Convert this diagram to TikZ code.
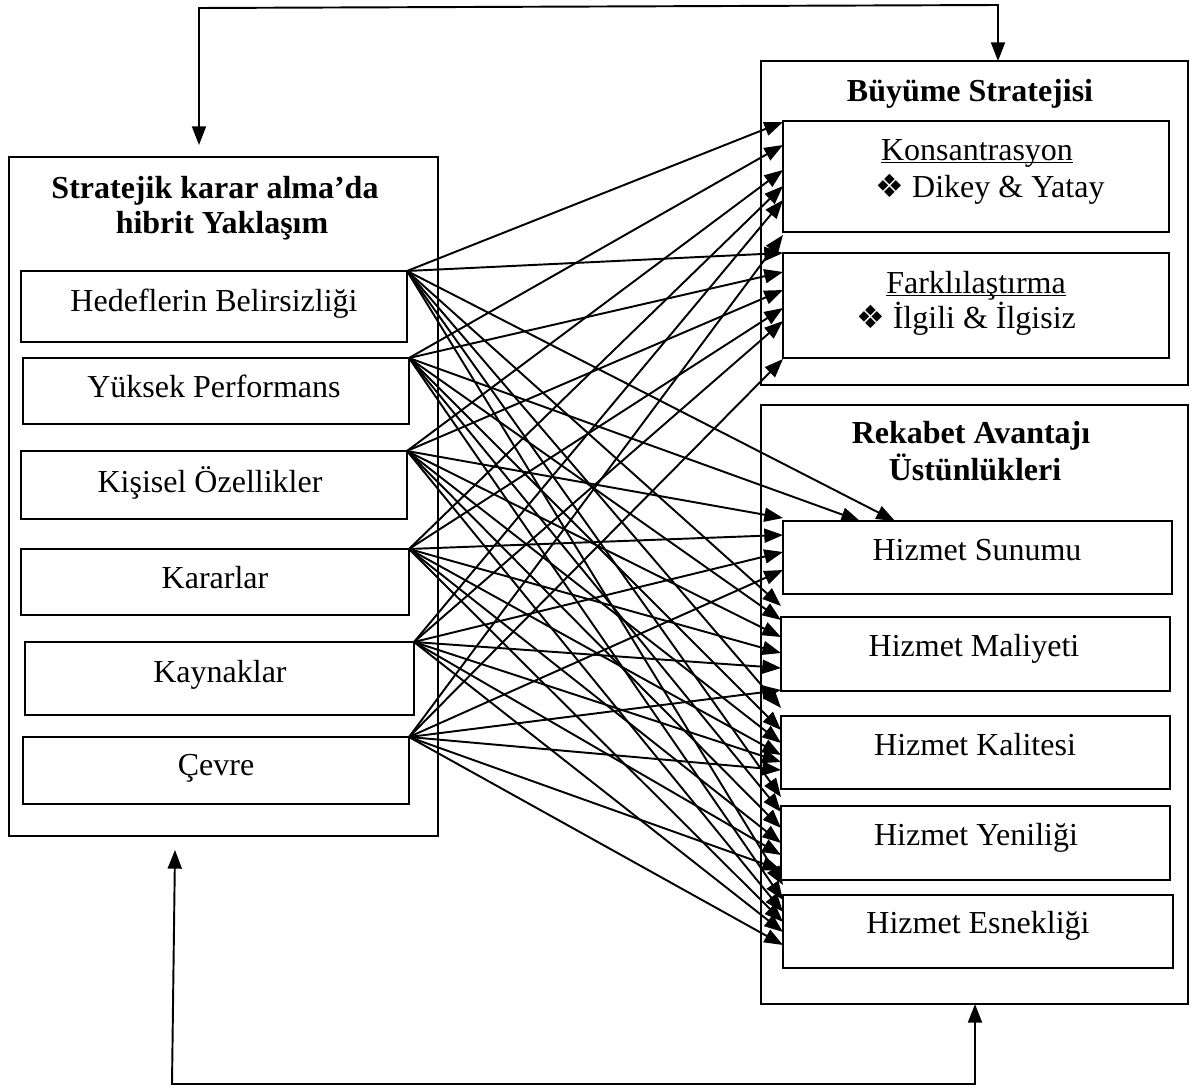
\documentclass[tikz,border=0pt]{standalone}
\usepackage{fontspec}
\setmainfont{Liberation Serif}
\newfontfamily\dingfont{DejaVu Sans}
\usetikzlibrary{arrows.meta,calc}
% four-diamond bullet
\newcommand\bul{{\dingfont\fontsize{24}{24}\selectfont ❖}}
% underline drawn close to the baseline
\newcommand\ulin[1]{\setbox0\hbox{#1}\rlap{\rule[-2.6pt]{\wd0}{1.1pt}}\box0}
% rectangle given by its corners (in px units)
\newcommand\rbox[5]{\node[box,minimum width={(#4-#2)*0.75pt},minimum height={(#5-#3)*0.75pt}] (#1) at (#2,#3) {};}
\begin{document}
\begin{tikzpicture}[x=0.75pt,y=-0.75pt,
  box/.style={draw,line width=1.5pt,inner sep=0pt,outer sep=0pt,anchor=north west},
  lbl/.style={inner sep=0pt,anchor=base,font=\fontsize{24}{28}\selectfont},
  ttl/.style={inner sep=0pt,anchor=base,font=\fontsize{24}{28}\selectfont\bfseries},
  tip/.style={Triangle[length=14pt,width=10.5pt]},
  arr/.style={line width=1.45pt,-{Triangle[length=14pt,width=10.5pt]}},
  both/.style={line width=1.45pt,{Triangle[length=14pt,width=10.5pt]}-{Triangle[length=14pt,width=10.5pt]}}]
\useasboundingbox[fill=white] (0,0) rectangle (1192,1088);

% left block: hybrid approach and its factors
\rbox{strat}{9}{157}{438}{836}
\rbox{hed}{21}{271}{407}{342}
\rbox{yuk}{23}{358}{409}{424}
\rbox{kis}{21}{451}{407}{519}
\rbox{kar}{21}{549}{409}{615}
\rbox{kay}{25}{642}{414}{715}
\rbox{cev}{23}{737}{409}{804}

% right block: growth strategy
\rbox{buy}{761}{61}{1188}{385}
\rbox{kon}{783}{121}{1169}{232}
\rbox{far}{783}{253}{1169}{358}

% right block: competitive advantage
\rbox{rek}{761}{405}{1188}{1004}
\rbox{sun}{783}{521}{1172}{594}
\rbox{mal}{781}{617}{1170}{691}
\rbox{kal}{781}{716}{1170}{789}
\rbox{yen}{781}{806}{1170}{880}
\rbox{esn}{783}{895}{1173}{968}

% titles and labels
\node[ttl] (stratT1) at (215,198) {Stratejik karar alma’da};
\node[ttl] (stratT2) at (222,233) {hibrit Yaklaşım};
\node[lbl] (hedT) at (214,311) {Hedeflerin Belirsizliği};
\node[lbl] (yukT) at (214,397) {Yüksek Performans};
\node[lbl] (kisT) at (210,492) {Kişisel Özellikler};
\node[lbl] (karT) at (215,588) {Kararlar};
\node[lbl] (kayT) at (220,682) {Kaynaklar};
\node[lbl] (cevT) at (216,775) {Çevre};

\node[ttl] (buyT) at (970,101) {Büyüme Stratejisi};
\node[lbl] (konT) at (977,160) {\ulin{Konsantrasyon}};
\node[lbl] (konS) at (990,197) {\bul\ Dikey \& Yatay};
\node[lbl] (farT) at (976,293) {\ulin{Farklılaştırma}};
\node[lbl] (farS) at (966,328) {\bul\ İlgili \& İlgisiz};

\node[ttl] (rekT1) at (971,443) {Rekabet Avantajı};
\node[ttl] (rekT2) at (975,480) {Üstünlükleri};
\node[lbl] (sunT) at (977,560) {Hizmet Sunumu};
\node[lbl] (malT) at (974,656) {Hizmet Maliyeti};
\node[lbl] (kalT) at (975,755) {Hizmet Kalitesi};
\node[lbl] (yenT) at (976,845) {Hizmet Yeniliği};
\node[lbl] (esnT) at (978,933) {Hizmet Esnekliği};

% every factor feeds every strategy and advantage
\foreach \s/\d in {hed/1,yuk/24,kis/49,kar/65,kay/79,cev/114}
  \draw[arr] (\s.north east) -- ($(kon.north west)+(0,\d)$);
\foreach \s/\d in {hed/0,yuk/19,kis/37,kar/55,kay/68,cev/106}
  \draw[arr] (\s.north east) -- ($(far.north west)+(0,\d)$);
\draw[arr] (hed.north east) -- ($(sun.north west)+(112,0)$);
\draw[arr] (yuk.north east) -- ($(sun.north west)+(77,0)$);
\foreach \s/\d in {kis/-3,kar/14,kay/31,cev/49}
  \draw[arr] (\s.north east) -- ($(sun.north west)+(0,\d)$);
\foreach \s/\d in {hed/-11,yuk/3,kis/20,kar/36,kay/51,cev/73}
  \draw[arr] (\s.north east) -- ($(mal.north west)+(0,\d)$);
\foreach \s/\d in {hed/-8,yuk/14,kis/27,kar/39,kay/46,cev/54}
  \draw[arr] (\s.north east) -- ($(kal.north west)+(0,\d)$);
\foreach \s/\d in {hed/-9,yuk/6,kis/22,kar/37,kay/49,cev/64}
  \draw[arr] (\s.north east) -- ($(yen.north west)+(0,\d)$);
\foreach \s/\d in {hed/-10,yuk/5,kis/17,kar/27,kay/37,cev/50}
  \draw[arr] (\s.north east) -- ($(esn.north west)+(0,\d)$);

% feedback loops
\coordinate (tl) at (199,8);
\coordinate (tr) at (998,5);
\draw[both] ($(tl |- strat.north)+(0,-12)$) -- (tl) -- (tr) -- (tr |- buy.north);
\coordinate (bt) at (175,850);
\coordinate (bl) at (172,1084);
\coordinate (br) at (975,1084);
\draw[both] (bt) -- (bl) -- (br) -- (br |- rek.south);
\end{tikzpicture}
\end{document}
